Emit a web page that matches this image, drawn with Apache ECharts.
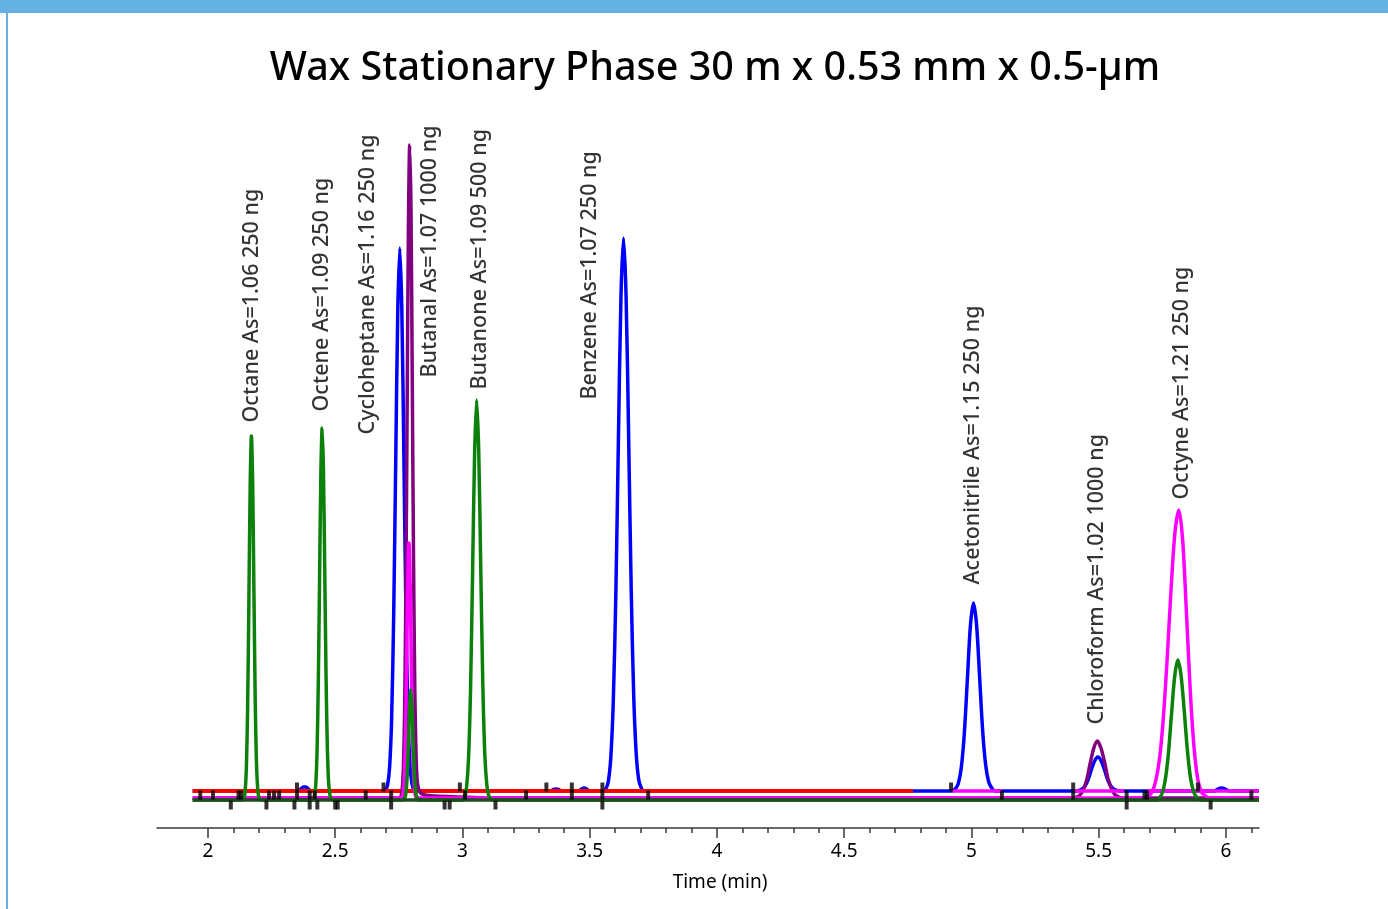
<!DOCTYPE html>
<html>
<head>
<meta charset="utf-8">
<script src="https://cdn.jsdelivr.net/npm/echarts@6/dist/echarts.min.js"></script>
<style>
html,body{margin:0;padding:0;background:#fff;}
#chart{width:1388px;height:909px;}
</style>
</head>
<body>
<div id="chart"></div>
<script>
// ---- data (time in min, signal in arbitrary detector units) ----
const titleText = 'Wax Stationary Phase 30 m x 0.53 mm x 0.5-µm';
const xAxisName = 'Time (min)';
const majorTicks = [2, 2.5, 3, 3.5, 4, 4.5, 5, 5.5, 6];
const minorTicks = [2.1, 2.2, 2.3, 2.4, 2.6, 2.7, 2.8, 2.9, 3.1, 3.2, 3.3, 3.4, 3.6, 3.7, 3.8, 3.9,
  4.1, 4.2, 4.3, 4.4, 4.6, 4.7, 4.8, 4.9, 5.1, 5.2, 5.3, 5.4, 5.6, 5.7, 5.8, 5.9, 6.1];

const peakNames = ['Octane As=1.06 250 ng', 'Octene As=1.09 250 ng', 'Cycloheptane As=1.16 250 ng',
  'Butanal As=1.07 1000 ng', 'Butanone As=1.09 500 ng', 'Benzene As=1.07 250 ng',
  'Acetonitrile As=1.15 250 ng', 'Chloroform As=1.02 1000 ng', 'Octyne As=1.21 250 ng'];
const labelTimes = [2.173, 2.448, 2.629, 2.872, 3.069, 3.501, 5.006, 5.493, 5.827];
const labelSignals = [377, 388, 365, 422, 410, 400, 215, 75, 300];

const greenTrace = [[1.94,0],
  [2.136,0],[2.141,1],[2.146,8],[2.151,31],[2.156,91],[2.161,197],[2.166,312],[2.171,364],[2.176,315],[2.181,205],[2.186,98],[2.191,36],[2.196,10],[2.201,2],[2.206,0],
  [2.414,0],[2.419,4],[2.424,16],[2.429,50],[2.434,121],[2.439,226],[2.444,328],[2.449,372],[2.454,330],[2.459,232],[2.464,128],[2.469,56],[2.474,19],[2.479,6],[2.484,1],[2.490,0],
  [2.767,0],[2.772,1],[2.777,5],[2.782,19],[2.787,50],[2.792,90],[2.797,110],[2.802,92],[2.807,55],[2.812,22],[2.817,7],[2.822,2],[2.828,0],
  [3.000,0],[3.008,2],[3.016,12],[3.024,41],[3.032,111],[3.040,227],[3.048,347],[3.056,400],[3.064,350],[3.072,234],[3.080,118],[3.088,46],[3.096,15],[3.104,4],[3.112,1],[3.120,0],
  [5.730,0],[5.736,1.5],[5.7485,6],[5.761,19],[5.7735,45],[5.786,85],[5.7985,123],[5.811,140],[5.8235,125],[5.836,90],[5.8485,50],[5.861,22],[5.8735,8],[5.886,2.5],[5.900,0],
  [6.13,0]];

const blueTrace = [[1.94,9],
  [2.355,9],[2.365,11],[2.375,13],[2.385,13],[2.395,11],[2.405,9],
  [2.690,9],[2.698,10],[2.706,15],[2.714,33],[2.722,82],[2.730,185],[2.738,339],[2.746,488],[2.754,552],[2.762,490],[2.770,345],[2.778,190],[2.786,85],[2.794,35],[2.802,16],[2.810,10],[2.818,9],
  [3.345,9],[3.358,10.5],[3.368,11],[3.378,10.5],[3.390,9],
  [3.455,9],[3.468,11],[3.478,12],[3.488,11],[3.500,9],
  [3.553,9],[3.563,11],[3.573,18],[3.583,42],[3.593,100],[3.603,208],[3.613,361],[3.623,503],[3.633,562],[3.643,505],[3.653,366],[3.663,214],[3.673,105],[3.683,46],[3.693,20],[3.703,12],[3.713,9],
  [4.924,9],[4.936,11],[4.948,16],[4.960,32],[4.972,66],[4.984,120],[4.996,174],[5.008,197],[5.020,176],[5.032,124],[5.044,70],[5.056,35],[5.068,18],[5.080,12],[5.092,9],
  [5.406,9],[5.419,9.3],[5.432,10.5],[5.445,13.5],[5.458,20],[5.471,30],[5.484,39],[5.497,43],[5.510,39],[5.523,30],[5.536,20],[5.549,13.5],[5.562,10.5],[5.575,9.3],[5.588,9],
  [5.955,9],[5.968,11],[5.983,12],[5.998,11],[6.012,9],
  [6.13,9]];

const redTrace = [[1.94,9],[4.77,9]];

const purpleTrace = [[1.94,2],
  [2.755,2],[2.758,3],[2.763,9],[2.768,31],[2.773,90],[2.778,214],[2.783,398],[2.788,577],[2.793,655],[2.798,590],[2.803,420],[2.808,240],[2.813,110],[2.818,45],[2.823,18],[2.833,8],[2.853,5],[2.893,4],[2.993,3],[3.100,2],
  [5.397,2],[5.411,2.6],[5.425,4.5],[5.439,10],[5.453,20],[5.467,37],[5.481,52],[5.495,59],[5.509,52],[5.523,38],[5.537,21],[5.551,11],[5.565,5],[5.579,3],[5.593,2],
  [6.13,2]];

const magentaTrace = [[1.94,2],
  [2.760,2],[2.765,4],[2.770,13],[2.775,45],[2.780,119],[2.785,211],[2.790,257],[2.795,213],[2.800,124],[2.805,50],[2.810,16],[2.815,5],[2.820,2],
  [5.680,2],[5.695,4],[5.710,8],[5.725,20],[5.740,43],[5.755,85],[5.770,145],[5.785,213],[5.800,268],[5.815,290],[5.830,260],[5.845,187],[5.860,109],[5.875,52],[5.890,20],[5.905,7.5],[5.920,4],[5.935,2],
  [6.13,2]];

const magentaBaselines = [[4.925,9],[5.12,9],null,[5.405,9],[5.60,9],null,[5.69,9],[6.13,9]];
const darkBaseline = [[1.94,0],[6.13,0]];

const markersHigh = [2.35, 2.69, 2.99, 3.33, 3.43, 3.55, 4.92, 5.40, 5.89];
const markersMid = [1.97, 2.02, 2.12, 2.13, 2.24, 2.26, 2.28, 2.35, 2.40, 2.42, 2.62, 2.72, 3.01, 3.25, 3.43, 3.55, 3.73, 5.12, 5.40, 5.61, 5.68, 5.69, 6.10];
const markersLow = [2.09, 2.23, 2.34, 2.40, 2.43, 2.50, 2.51, 2.72, 2.93, 2.95, 3.13, 3.55, 5.61, 5.94];

// ---- chart ----
const chart = echarts.init(document.getElementById('chart'), null, {renderer: 'canvas'});
const fontFam = '"Noto Sans", "Open Sans", sans-serif';

function lineSeries(name, data, color, width, z) {
  return {name, type: 'line', data, showSymbol: false, symbol: 'none', smooth: 0.3,
    lineStyle: {color, width}, z, silent: true, connectNulls: false};
}
const markerData = [].concat(
  markersHigh.map(t => [t, 13]),
  markersMid.map(t => [t, 5]),
  markersLow.map(t => [t, -5]));

const option = {
  animation: false,
  backgroundColor: '#ffffff',
  title: {text: titleText, left: 710, top: 44, textAlign: 'center',
    textStyle: {fontFamily: fontFam, fontSize: 39.5, fontWeight: 500, color: '#000'}},
  graphic: [
    {type: 'rect', left: 0, top: 0, shape: {width: 1388, height: 13}, style: {fill: '#64b1e4'}, z: 100},
    {type: 'rect', left: 6, top: 0, shape: {width: 2, height: 909}, style: {fill: '#64b1e4'}, z: 100}
  ],
  grid: {left: 157, right: 129, top: 100, bottom: 81, containLabel: false},
  xAxis: [
    {type: 'value', min: 1.8, max: 6.13, position: 'bottom',
      name: xAxisName, nameLocation: 'middle', nameGap: 45,
      nameTextStyle: {fontFamily: fontFam, fontSize: 19, color: '#000', padding: [0, 0, 0, 24]},
      axisLine: {show: true, onZero: false, lineStyle: {color: '#3a3a3a', width: 1.5}},
      axisTick: {show: true, customValues: majorTicks, length: 10, lineStyle: {color: '#3a3a3a', width: 1.5}},
      axisLabel: {show: true, customValues: majorTicks, margin: 14, fontFamily: fontFam, fontSize: 19, color: '#000',
        formatter: v => String(v)},
      splitLine: {show: false}},
    {type: 'value', min: 1.8, max: 6.13, position: 'bottom',
      axisLine: {show: false, onZero: false},
      axisTick: {show: true, customValues: minorTicks, length: 5, lineStyle: {color: '#3a3a3a', width: 1.5}},
      axisLabel: {show: false},
      splitLine: {show: false}}
  ],
  yAxis: {type: 'value', min: -28, max: 700, show: false, splitLine: {show: false}},
  series: [
    lineSeries('Blue', blueTrace, '#0000ff', 3.5, 2),
    lineSeries('Red', redTrace, '#ff0000', 4, 3),
    lineSeries('Purple', purpleTrace, '#800080', 3.5, 4),
    lineSeries('Magenta', magentaTrace, '#ff00ff', 3.5, 5),
    lineSeries('MagentaBase', magentaBaselines, '#ff00ff', 3.5, 5),
    lineSeries('Green', greenTrace, '#0b800b', 3.5, 6),
    lineSeries('Baseline', darkBaseline, '#1d4d1d', 3.5, 7),
    {name: 'Markers', type: 'scatter', data: markerData, symbol: 'rect', symbolSize: [4, 9],
      itemStyle: {color: '#000'}, z: 8, silent: true},
    {name: 'Labels', type: 'scatter', symbolSize: 1, itemStyle: {color: 'rgba(0,0,0,0)'}, z: 9, silent: true,
      data: labelTimes.map((t, i) => ({value: [t, labelSignals[i]], name: peakNames[i]})),
      label: {show: true, formatter: p => p.name, rotate: 90, position: 'top', distance: 0,
        align: 'left', verticalAlign: 'middle', fontFamily: fontFam, fontSize: 21.5, fontWeight: 500, color: '#000'}}
  ]
};
chart.setOption(option);
</script>
</body>
</html>
